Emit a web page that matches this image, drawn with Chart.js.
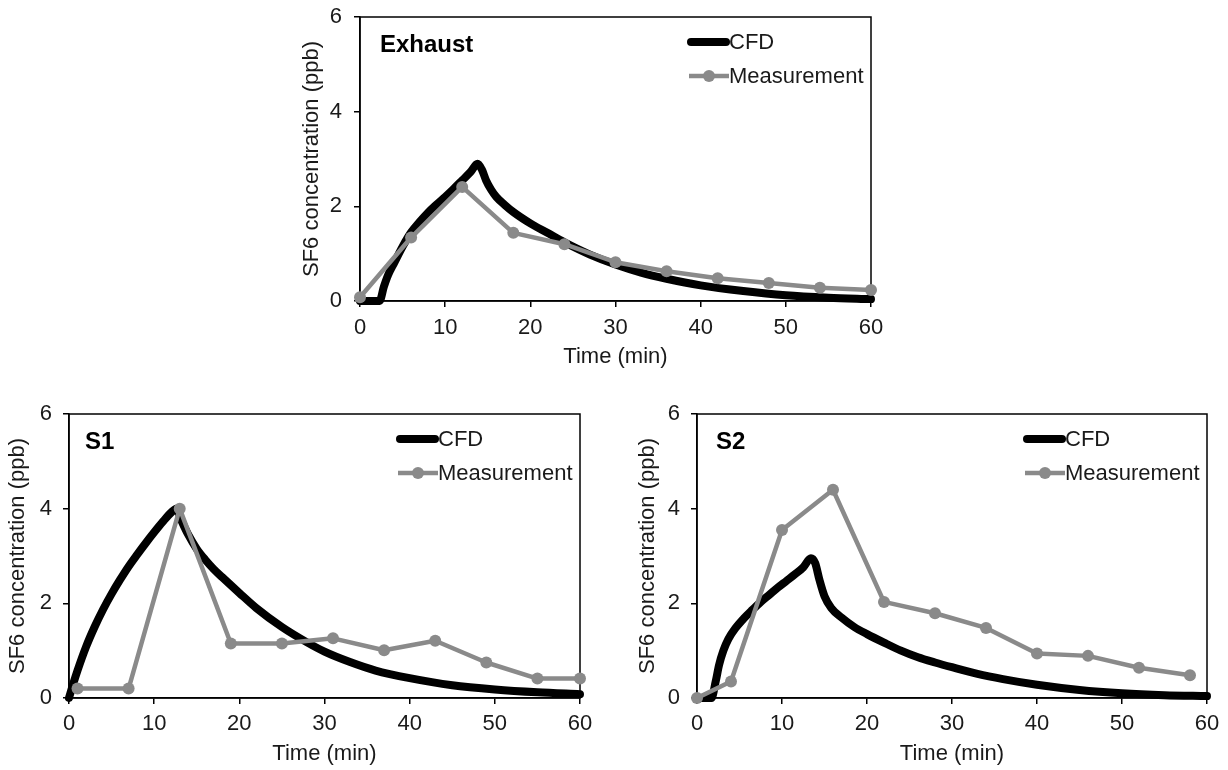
<!DOCTYPE html>
<html><head><meta charset="utf-8">
<script src="https://cdn.jsdelivr.net/npm/chart.js@4/dist/chart.umd.min.js"></script>
<style>
html,body{margin:0;padding:0;background:#fff;}
body{width:1228px;height:770px;position:relative;overflow:hidden;}
.box{position:absolute;}
</style></head><body>
<div class="box" style="left:290px;top:0px;width:600px;height:370px"><canvas id="c0"></canvas></div>
<div class="box" style="left:0px;top:400px;width:600px;height:370px"><canvas id="c1"></canvas></div>
<div class="box" style="left:628px;top:400px;width:600px;height:370px"><canvas id="c2"></canvas></div>
<script>
// ---- data ----
const panelNames = ['Exhaust', 'S1', 'S2'];
const seriesNames = ['CFD', 'Measurement'];
const xTitle = 'Time (min)';
const yTitle = 'SF6 concentration (ppb)';
const xTicks = [0, 10, 20, 30, 40, 50, 60];
const yTicks = [0, 2, 4, 6];

const exhaustCfdTime = [0,2.3,2.8,3.3,4,5,6,7,8,9,10,11,12,13,13.8,14.3,14.8,15.4,16,17,18,20,22,24,27,30,33,36,40,45,50,55,60];
const exhaustCfdConc = [0,0,0.3,0.55,0.8,1.15,1.45,1.67,1.87,2.04,2.2,2.37,2.55,2.73,2.9,2.78,2.55,2.35,2.2,2.03,1.88,1.64,1.44,1.24,0.98,0.77,0.6,0.47,0.33,0.21,0.12,0.07,0.04];
const exhaustMeasTime = [0,6,12,18,24,30,36,42,48,54,60];
const exhaustMeasConc = [0.08,1.34,2.41,1.44,1.2,0.82,0.63,0.48,0.38,0.28,0.23];

const s1CfdTime = [0,0.5,1,2,3,4,5,6,7,8,9,10,11,12,12.6,13.2,14,15,16,17,18,20,22,25,28,30,33,36,40,45,50,55,60];
const s1CfdConc = [0,0.3,0.58,1.08,1.5,1.87,2.2,2.5,2.78,3.03,3.27,3.5,3.72,3.92,4.0,3.75,3.45,3.15,2.92,2.72,2.55,2.22,1.9,1.5,1.17,0.98,0.76,0.58,0.42,0.27,0.18,0.12,0.08];
const s1MeasTime = [1,7,13,19,25,31,37,43,49,55,60];
const s1MeasConc = [0.2,0.2,4.0,1.15,1.15,1.26,1.01,1.21,0.75,0.41,0.41];

const s2CfdTime = [0,1.7,2.2,2.6,3.1,3.7,4.5,5.5,6.5,7.5,8.5,9.5,10.5,11.5,12.5,13.4,13.9,14.4,15,15.8,17,18.5,20,22,24,26,28,30,33,36,40,45,50,55,60];
const s2CfdConc = [0,0,0.35,0.7,1.0,1.25,1.47,1.68,1.86,2.03,2.18,2.33,2.47,2.61,2.76,2.95,2.85,2.5,2.15,1.9,1.7,1.5,1.35,1.17,1.0,0.86,0.75,0.65,0.51,0.4,0.28,0.17,0.1,0.06,0.04];
const s2MeasTime = [0,4,10,16,22,28,34,40,46,52,58];
const s2MeasConc = [0,0.35,3.55,4.4,2.03,1.79,1.48,0.94,0.89,0.64,0.48];

// ---- styling ----
const FONT = "'Liberation Sans', Arial, sans-serif";
const TEXT = '#1a1a1a';
const GRAY = '#8a8a8a';
const FS = 22;

const pts = (xs, ys) => xs.map((x, i) => ({x: x, y: ys[i]}));

const framePlugin = {
  id: 'frame',
  beforeDatasetsDraw(chart) {
    const {ctx, chartArea: a} = chart;
    ctx.save();
    ctx.strokeStyle = '#000';
    ctx.lineWidth = 1.5;
    ctx.strokeRect(a.left, a.top, a.right - a.left, a.bottom - a.top);
    ctx.restore();
  }
};

const annotPlugin = {
  id: 'annot',
  afterDraw(chart, args, opts) {
    const {ctx, chartArea: a} = chart;
    ctx.save();
    // panel label
    ctx.fillStyle = '#000';
    ctx.font = 'bold 24px ' + FONT;
    ctx.textAlign = 'left';
    ctx.textBaseline = 'middle';
    ctx.fillText(opts.panel, a.left + opts.labelDx, a.top + 28);
    // legend
    const x1 = a.right - 142, x0 = x1 - 42;
    const y0 = a.top + 25, y1 = a.top + 59;
    const ds = chart.data.datasets;
    ctx.strokeStyle = ds[0].borderColor;
    ctx.lineWidth = 8;
    ctx.lineCap = 'round';
    ctx.beginPath(); ctx.moveTo(x0 + 4, y0); ctx.lineTo(x1 - 3, y0); ctx.stroke();
    ctx.strokeStyle = ds[1].borderColor;
    ctx.lineWidth = 4.5;
    ctx.lineCap = 'butt';
    ctx.beginPath(); ctx.moveTo(x0 + 2, y1); ctx.lineTo(x1, y1); ctx.stroke();
    ctx.fillStyle = ds[1].borderColor;
    ctx.beginPath(); ctx.arc((x0 + x1) / 2 + 1, y1, 6, 0, Math.PI * 2); ctx.fill();
    ctx.fillStyle = TEXT;
    ctx.font = FS + 'px ' + FONT;
    ctx.fillText(ds[0].label, x1, y0 + 1);
    ctx.fillText(ds[1].label, x1, y1 + 1);
    ctx.restore();
  }
};

function makeChart(id, panel, cfdT, cfdC, measT, measC, g) {
  return new Chart(document.getElementById(id), {
    type: 'scatter',
    data: {
      datasets: [
        {label: seriesNames[0], data: pts(cfdT, cfdC), showLine: true, borderColor: '#000', backgroundColor: '#000',
         borderWidth: 8, pointRadius: 0, cubicInterpolationMode: 'monotone', borderJoinStyle: 'round', borderCapStyle: 'round', clip: false, order: 2},
        {label: seriesNames[1], data: pts(measT, measC), showLine: true, borderColor: GRAY, backgroundColor: GRAY,
         borderWidth: 4.5, pointRadius: 6, pointBorderWidth: 0, pointBackgroundColor: GRAY, borderJoinStyle: 'round', clip: false, order: 1}
      ]
    },
    options: {
      responsive: true, maintainAspectRatio: false, animation: false,
      devicePixelRatio: 1,
      layout: {padding: {top: g.pt, right: g.pr, left: 0, bottom: 0}},
      plugins: {legend: {display: false}, tooltip: {enabled: false},
        annot: {panel: panel, labelDx: g.ldx}},
      scales: {
        x: {type: 'linear', min: 0, max: 60,
          afterBuildTicks: (s) => { s.ticks = xTicks.map(v => ({value: v})); },
          afterFit: (s) => { s.height = g.xh; s.paddingLeft = 0; s.paddingRight = 0; },
          ticks: {font: {family: FONT, size: FS}, color: TEXT, padding: g.xpad, maxRotation: 0, autoSkip: false},
          grid: {display: true, drawOnChartArea: false, drawTicks: true, tickLength: 6, color: '#000', lineWidth: 1.5},
          border: {display: true, color: '#000', width: 1.5},
          title: {display: true, text: xTitle, font: {family: FONT, size: FS}, color: TEXT, padding: {top: 0, bottom: g.xtp}}
        },
        y: {type: 'linear', min: 0, max: 6,
          afterBuildTicks: (s) => { s.ticks = yTicks.map(v => ({value: v})); },
          afterFit: (s) => { s.width = g.yw; s.paddingTop = 0; s.paddingBottom = 0; },
          ticks: {font: {family: FONT, size: FS}, color: TEXT, padding: g.ypad, autoSkip: false},
          grid: {display: true, drawOnChartArea: false, drawTicks: true, tickLength: 6, color: '#000', lineWidth: 1.5},
          border: {display: true, color: '#000', width: 1.5},
          title: {display: true, text: yTitle, font: {family: FONT, size: FS}, color: TEXT, padding: {top: g.ytp, bottom: 0}}
        }
      }
    },
    plugins: [framePlugin, annotPlugin]
  });
}

makeChart('c0', panelNames[0], exhaustCfdTime, exhaustCfdConc, exhaustMeasTime, exhaustMeasConc,
  {pt: 17, pr: 19, yw: 70, xh: 69, xpad: 8, ypad: 12, xtp: 0, ytp: 9, ldx: 20});
makeChart('c1', panelNames[1], s1CfdTime, s1CfdConc, s1MeasTime, s1MeasConc,
  {pt: 14, pr: 20, yw: 69, xh: 72, xpad: 7, ypad: 11, xtp: 3, ytp: 5, ldx: 16});
makeChart('c2', panelNames[2], s2CfdTime, s2CfdConc, s2MeasTime, s2MeasConc,
  {pt: 14, pr: 21, yw: 69, xh: 72, xpad: 7, ypad: 11, xtp: 3, ytp: 7, ldx: 19});
</script>
</body></html>
